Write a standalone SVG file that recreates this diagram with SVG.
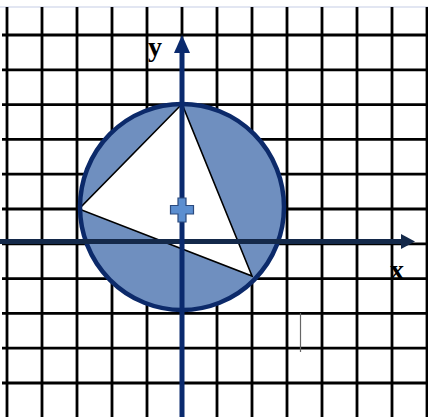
<svg xmlns="http://www.w3.org/2000/svg" width="428" height="417" viewBox="0 0 428 417">
  <style>
    .grid line { stroke: #000; stroke-width: 2.8; }
    .lbl { font-family: "Liberation Serif", "Times New Roman", serif; font-weight: bold; font-size: 28px; fill: #000; }
  </style>
  <rect x="0" y="0" width="428" height="417" fill="#fff"/>
  <line x1="0" y1="7" x2="428" y2="7" stroke="#c5cde6" stroke-width="1.2"/>
  <g id="grid" class="grid">
    <line x1="7" y1="7" x2="7" y2="417"/>
    <line x1="42" y1="7" x2="42" y2="417"/>
    <line x1="77" y1="7" x2="77" y2="417"/>
    <line x1="112" y1="7" x2="112" y2="417"/>
    <line x1="147" y1="7" x2="147" y2="417"/>
    <line x1="182" y1="7" x2="182" y2="417"/>
    <line x1="217" y1="7" x2="217" y2="417"/>
    <line x1="252" y1="7" x2="252" y2="417"/>
    <line x1="287" y1="7" x2="287" y2="417"/>
    <line x1="322" y1="7" x2="322" y2="417"/>
    <line x1="357" y1="7" x2="357" y2="417"/>
    <line x1="392" y1="7" x2="392" y2="417"/>
    <line x1="427" y1="7" x2="427" y2="417"/>
    <line x1="2" y1="35" x2="428" y2="35"/>
    <line x1="2" y1="69.8" x2="428" y2="69.8"/>
    <line x1="2" y1="104.6" x2="428" y2="104.6"/>
    <line x1="2" y1="139.4" x2="428" y2="139.4"/>
    <line x1="2" y1="174.2" x2="428" y2="174.2"/>
    <line x1="2" y1="209" x2="428" y2="209"/>
    <line x1="2" y1="243.8" x2="428" y2="243.8"/>
    <line x1="2" y1="278.6" x2="428" y2="278.6"/>
    <line x1="2" y1="313.4" x2="428" y2="313.4"/>
    <line x1="2" y1="348.2" x2="428" y2="348.2"/>
    <line x1="2" y1="383" x2="428" y2="383"/>
  </g>
  <line x1="300.5" y1="313" x2="300.5" y2="352" stroke="#666" stroke-width="1.2"/>
  <g id="circle">
    <ellipse cx="182" cy="207" rx="102" ry="103" fill="#6f8fbf" stroke="none"/>
    <polygon points="182,104 79,209 252,276" fill="#fff" stroke="#000" stroke-width="1.6" stroke-linejoin="miter"/>
    <ellipse cx="182" cy="207" rx="102" ry="103" fill="none" stroke="#0c2a6a" stroke-width="4.5"/>
  </g>
  <g id="axes">
    <line x1="0" y1="241.5" x2="404" y2="241.5" stroke="#14294a" stroke-width="5"/>
    <polygon points="401,234 415,241.5 401,249" fill="#14294a"/>
    <line x1="182" y1="417" x2="182" y2="50" stroke="#0a2a6e" stroke-width="5"/>
    <polygon points="174,53 182,35 190,53" fill="#0a2a6e"/>
  </g>
  <g id="center-mark">
    <path d="M178,198 H186 V205.5 H193.5 V214 H186 V222 H178 V214 H170.5 V205.5 H178 Z" fill="#5b8ed0" stroke="#2b4a7e" stroke-width="1.2"/>
  </g>
  <text class="lbl" x="148" y="56">y</text>
  <text class="lbl" x="390" y="279">x</text>
</svg>
